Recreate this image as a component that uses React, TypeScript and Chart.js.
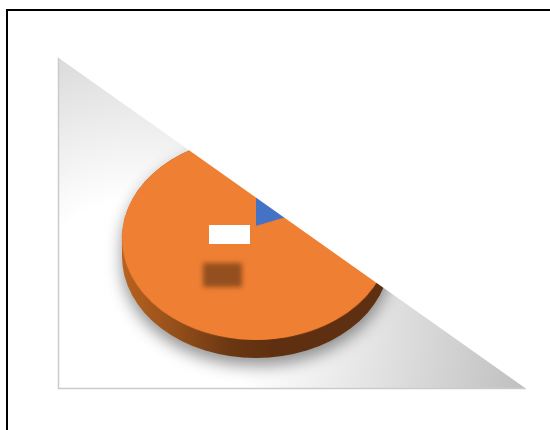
import React, { useEffect, useRef } from 'react';
import { Chart, registerables } from 'chart.js';

Chart.register(...registerables);

// ---- data ----
const categories: string[] = ['Category 1', 'Category 2'];
const values: number[] = [19, 81];
const sliceColors: string[] = ['#4472C4', '#EF7F33'];

// ---- 3D / perspective pie plugin ----
const RY_RATIO = 101.5 / 134;   // vertical squash of the projected disc
const CENTER_SHIFT = 12.5 / 134; // projected centre lies above the ellipse centre
const DEPTH = 18;

const pie3d = {
  id: 'pie3d',
  beforeDraw(chart: any) {
    const ctx: CanvasRenderingContext2D = chart.ctx;
    ctx.save();
    ctx.fillStyle = '#ffffff';
    ctx.fillRect(0, 0, chart.width, chart.height);
    // plot area background
    const g = ctx.createRadialGradient(140, 320, 0, 140, 320, 400);
    g.addColorStop(0, '#ffffff');
    g.addColorStop(0.3, '#ffffff');
    g.addColorStop(1, '#bdbdbd');
    ctx.fillStyle = g;
    ctx.fillRect(58, 58, 468, 331);
    ctx.strokeStyle = '#cbcbcb';
    ctx.lineWidth = 1.5;
    ctx.beginPath();
    ctx.moveTo(58.5, 57);
    ctx.lineTo(58.5, 388.5);
    ctx.lineTo(526, 388.5);
    ctx.stroke();
    ctx.restore();
  },
  beforeDatasetsDraw(chart: any) {
    const meta = chart.getDatasetMeta(0);
    const arcs = meta.data;
    if (!arcs || !arcs.length) return false;
    const ctx: CanvasRenderingContext2D = chart.ctx;
    const a0 = arcs[0];
    const cx = a0.x, ey = a0.y, R = a0.outerRadius;
    const ry = R * RY_RATIO;
    const top = ey - ry, bottom = ey + ry, pc = ey - R * CENTER_SHIFT;
    const C = (2 * pc - bottom - top) / (bottom - top);
    const A = bottom * (C + 1) - pc;
    const kR = R * Math.sqrt(1 - C * C);

    ctx.save();
    // silhouette with shadow + side wall
    const sil = new Path2D();
    sil.ellipse(cx, ey + DEPTH, R, ry, 0, 0, Math.PI, false);
    sil.lineTo(cx - R, ey);
    sil.ellipse(cx, ey, R, ry, 0, Math.PI, 2 * Math.PI, false);
    sil.lineTo(cx + R, ey + DEPTH);
    sil.closePath();
    const sg = ctx.createLinearGradient(cx - R, 0, cx + 20, 0);
    sg.addColorStop(0, '#b8621f');
    sg.addColorStop(0.3, '#9a521b');
    sg.addColorStop(0.7, '#6b3713');
    sg.addColorStop(1, '#5e2f10');
    ctx.shadowColor = 'rgba(0,0,0,0.42)';
    ctx.shadowBlur = 16;
    ctx.shadowOffsetY = 8;
    ctx.fillStyle = sg;
    ctx.fill(sil);
    ctx.restore();

    ctx.save();
    ctx.fillStyle = sliceColors[1];
    ctx.beginPath();
    ctx.ellipse(cx, ey, R - 0.5, ry - 0.5, 0, 0, Math.PI * 2);
    ctx.fill();
    ctx.restore();

    // draw the library's arcs on an offscreen circle, then warp into perspective
    const S = Math.ceil(2 * R) + 4;
    const off = document.createElement('canvas');
    off.width = S;
    off.height = S;
    const o = off.getContext('2d') as CanvasRenderingContext2D;
    o.translate(S / 2 - cx, S / 2 - ey);
    arcs.forEach((a: any) => a.draw(o));

    ctx.save();
    ctx.imageSmoothingEnabled = true;
    for (let y = Math.floor(top); y <= Math.ceil(bottom); y++) {
      const ym = y + 0.5;
      const t = (pc - ym) / (ym * C - A);
      if (t < -1 || t > 1) continue;
      const f = kR / (R * (1 + C * t));
      const sy = S / 2 + t * R;
      ctx.drawImage(off, 0, sy - 0.5, S, 1, cx - (S / 2) * f, y, S * f, 1);
    }
    ctx.restore();
    return false;
  },
  afterDraw(chart: any) {
    const ctx: CanvasRenderingContext2D = chart.ctx;
    ctx.save();
    // white cover above the diagonal
    ctx.fillStyle = '#ffffff';
    ctx.beginPath();
    ctx.moveTo(58, 57.5);
    ctx.lineTo(526.5, 389);
    ctx.lineTo(550, 389);
    ctx.lineTo(550, 12);
    ctx.lineTo(58, 12);
    ctx.closePath();
    ctx.fill();
    // data label boxes
    ctx.fillStyle = '#ffffff';
    ctx.fillRect(209, 225, 41, 19);
    ctx.filter = 'blur(2.5px)';
    ctx.fillStyle = '#944f1f';
    ctx.fillRect(203, 263, 39, 24);
    ctx.filter = 'none';
    // frame
    ctx.fillStyle = '#000000';
    ctx.fillRect(6, 9, 544, 2);
    ctx.fillRect(6, 9, 2, 421);
    ctx.restore();
  },
};

export default function App() {
  const ref = useRef<HTMLCanvasElement | null>(null);
  useEffect(() => {
    document.body.style.margin = '0';
    const canvas = ref.current;
    if (!canvas) return;
    const chart = new Chart(canvas, {
      type: 'pie',
      data: {
        labels: categories,
        datasets: [
          {
            data: values,
            backgroundColor: sliceColors,
            borderWidth: 0,
          },
        ],
      },
      options: {
        responsive: false,
        animation: false,
        devicePixelRatio: 1,
        layout: { padding: { left: 122, right: 160, top: 104.5, bottom: 57.5 } },
        plugins: {
          legend: { display: false },
          tooltip: { enabled: false },
          title: { display: false },
        },
      },
      plugins: [pie3d],
    });
    return () => chart.destroy();
  }, []);
  return (
    <div style={{ width: 550, height: 430 }}>
      <canvas ref={ref} width={550} height={430} style={{ display: 'block', width: 550, height: 430 }} />
    </div>
  );
}
